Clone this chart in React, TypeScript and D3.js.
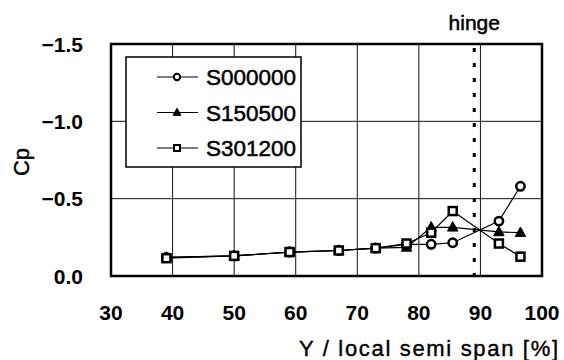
import React from "react";
import * as d3 from "d3";

// Spanwise stations (Y / local semi span, %)
const spanStations = [39, 50, 59, 67, 73, 78, 82, 85.5, 93, 96.5];

// Pressure coefficient per configuration
const cpS000000 = [-0.12, -0.13, -0.155, -0.165, -0.18, -0.205, -0.205, -0.215, -0.355, -0.58];
const cpS150500 = [-0.12, -0.13, -0.155, -0.165, -0.18, -0.185, -0.315, -0.315, -0.285, -0.28];
const cpS301200 = [-0.115, -0.13, -0.155, -0.165, -0.18, -0.21, -0.28, -0.42, -0.21, -0.125];

const seriesNames = ["S000000", "S150500", "S301200"];
const seriesMarkers = ["circle", "triangle", "square"];

const xTicks = [30, 40, 50, 60, 70, 80, 90, 100];
const yTicks = [0, -0.5, -1.0, -1.5];
const hingeStation = 89;

const W = 564;
const H = 360;
const plot = { left: 111, right: 542, top: 44, bottom: 276 };

const x = d3.scaleLinear().domain([30, 100]).range([plot.left, plot.right]);
const y = d3.scaleLinear().domain([0, -1.5]).range([plot.bottom, plot.top]);

const FONT = "'Liberation Sans', Arial, sans-serif";

function Marker({ kind, cx, cy, size, sw }: { kind: string; cx: number; cy: number; size: number; sw: number }) {
  if (kind === "circle") {
    return <circle cx={cx} cy={cy} r={size * 0.42} fill="#fff" stroke="#000" strokeWidth={sw} />;
  }
  if (kind === "square") {
    const s = size * 0.8;
    return <rect x={cx - s / 2} y={cy - s / 2} width={s} height={s} fill="#fff" stroke="#000" strokeWidth={sw} />;
  }
  const h = size * 0.95;
  const pts = [
    [cx, cy - h * 0.6],
    [cx + h * 0.55, cy + h * 0.4],
    [cx - h * 0.55, cy + h * 0.4],
  ];
  return <polygon points={pts.map((p) => p.join(",")).join(" ")} fill="#000" stroke="#000" strokeWidth={1} />;
}

export default function App() {
  const series = [cpS000000, cpS150500, cpS301200];
  const line = d3
    .line<number>()
    .x((_, i) => x(spanStations[i]))
    .y((d) => y(d));

  const legend = { left: 126, top: 57, width: 175, height: 110 };

  return (
    <svg width={W} height={H} style={{ position: "absolute", left: 0, top: 0, background: "#fff" }}>
      <rect width={W} height={H} fill="#fff" />
      {/* grid */}
      {xTicks.slice(1, -1).map((t) => (
        <line key={"gx" + t} x1={x(t)} x2={x(t)} y1={plot.top} y2={plot.bottom} stroke="#111" strokeWidth={1} />
      ))}
      {yTicks.slice(1, -1).map((t) => (
        <line key={"gy" + t} x1={plot.left} x2={plot.right} y1={y(t)} y2={y(t)} stroke="#111" strokeWidth={1} />
      ))}
      {/* hinge line */}
      <line
        x1={x(hingeStation)}
        x2={x(hingeStation)}
        y1={plot.top + 4}
        y2={plot.bottom}
        stroke="#000"
        strokeWidth={3}
        strokeDasharray="4 11"
      />
      <text x={x(hingeStation)} y={30} textAnchor="middle" fontFamily={FONT} fontSize={21} fill="#000" stroke="#000" strokeWidth={0.5}>
        hinge
      </text>
      {/* series lines */}
      {series.map((s, k) => (
        <path key={"l" + k} d={line(s) || ""} fill="none" stroke="#000" strokeWidth={1.2} />
      ))}
      {/* markers */}
      {series.map((s, k) =>
        s.map((v, i) => (
          <Marker key={"m" + k + "-" + i} kind={seriesMarkers[k]} cx={x(spanStations[i])} cy={y(v)} size={10} sw={2.5} />
        ))
      )}
      {/* frame */}
      <rect
        x={plot.left}
        y={plot.top}
        width={plot.right - plot.left}
        height={plot.bottom - plot.top}
        fill="none"
        stroke="#000"
        strokeWidth={2.5}
      />
      {/* legend */}
      <rect
        x={legend.left}
        y={legend.top}
        width={legend.width}
        height={legend.height}
        fill="#fff"
        stroke="#000"
        strokeWidth={1.5}
      />
      {seriesNames.map((name, k) => {
        const cy = legend.top + 20 + k * 35.5;
        return (
          <g key={"lg" + k}>
            <line x1={157} x2={198} y1={cy} y2={cy} stroke="#000" strokeWidth={1.2} />
            <Marker kind={seriesMarkers[k]} cx={177} cy={cy} size={7.5} sw={2} />
            <text
              x={206}
              y={cy + 8}
              fontFamily={FONT}
              fontSize={22}
              fill="#000"
              stroke="#000"
              strokeWidth={0.5}
              textLength={90}
              lengthAdjust="spacingAndGlyphs"
            >
              {name}
            </text>
          </g>
        );
      })}
      {/* y ticks */}
      {yTicks.map((t) => (
        <text
          key={"yt" + t}
          x={83}
          y={y(t) + 7.5}
          textAnchor="end"
          fontFamily={FONT}
          fontWeight="bold"
          fontSize={21}
          fill="#000"
        >
          {t === 0 ? "0.0" : "\u2212" + Math.abs(t).toFixed(1)}
        </text>
      ))}
      {/* x ticks */}
      {xTicks.map((t) => (
        <text
          key={"xt" + t}
          x={x(t)}
          y={320}
          textAnchor="middle"
          fontFamily={FONT}
          fontWeight="bold"
          fontSize={21}
          fill="#000"
        >
          {t}
        </text>
      ))}
      {/* axis titles */}
      <text
        x={299}
        y={356}
        fontFamily={FONT}
        fontSize={22}
        fill="#000"
        stroke="#000"
        strokeWidth={0.4}
        textLength={259}
        lengthAdjust="spacing"
      >
        Y / local semi span [%]
      </text>
      <text
        transform={`translate(29,162) rotate(-90)`}
        textAnchor="middle"
        fontFamily={FONT}
        fontSize={22}
        fill="#000"
        stroke="#000"
        strokeWidth={0.4}
      >
        Cp
      </text>
    </svg>
  );
}
